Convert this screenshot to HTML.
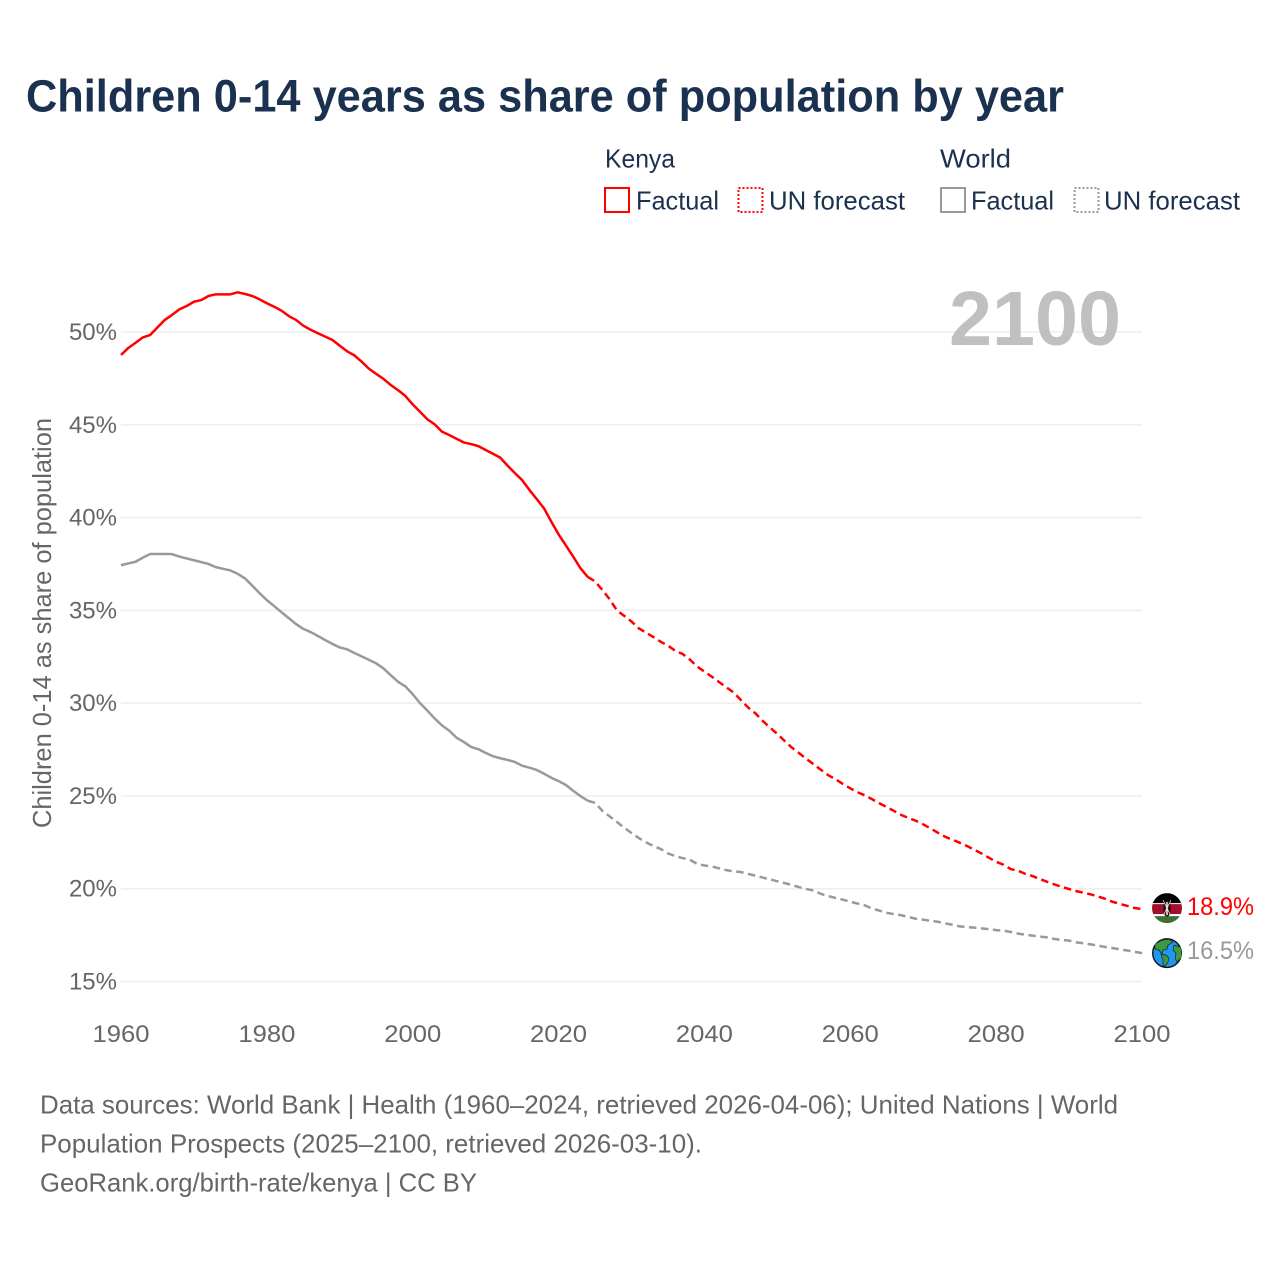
<!DOCTYPE html>
<html lang="en">
<head>
<meta charset="utf-8">
<title>Children 0-14 years as share of population by year</title>
<style>
html,body{margin:0;padding:0;background:#fff;}
svg{display:block;}
text{font-family:"Liberation Sans",sans-serif;}
</style>
</head>
<body>
<svg id="chart" width="1280" height="1280" viewBox="0 0 1280 1280" xmlns="http://www.w3.org/2000/svg">
  <rect x="0" y="0" width="1280" height="1280" fill="#fff"/>
  <text x="26" y="111.5" font-size="45" font-weight="700" fill="#1a3150" textLength="1038" lengthAdjust="spacingAndGlyphs">Children 0-14 years as share of population by year</text>

  <g font-size="26" fill="#1a3150">
    <text x="605" y="167.5" textLength="70" lengthAdjust="spacingAndGlyphs">Kenya</text>
    <text x="940" y="167.5" textLength="71" lengthAdjust="spacingAndGlyphs">World</text>
    <rect x="605" y="188" width="24" height="24" fill="none" stroke="#ff0000" stroke-width="2"/>
    <text x="636" y="209.5" textLength="83" lengthAdjust="spacingAndGlyphs">Factual</text>
    <rect x="738.5" y="188" width="24" height="24" fill="none" stroke="#ff0000" stroke-width="2" stroke-dasharray="2 2"/>
    <text x="769" y="209.5" textLength="136" lengthAdjust="spacingAndGlyphs">UN forecast</text>
    <rect x="941" y="188" width="24" height="24" fill="none" stroke="#999999" stroke-width="2"/>
    <text x="971" y="209.5" textLength="83" lengthAdjust="spacingAndGlyphs">Factual</text>
    <rect x="1074.5" y="188" width="24" height="24" fill="none" stroke="#999999" stroke-width="2" stroke-dasharray="2 2"/>
    <text x="1104" y="209.5" textLength="136" lengthAdjust="spacingAndGlyphs">UN forecast</text>
  </g>

  <g id="grid"></g>
  <g id="yticks"></g>
  <g id="xticks"></g>
  <text transform="translate(51,828) rotate(-90)" x="0" y="0" font-size="26" fill="#666666" textLength="410" lengthAdjust="spacingAndGlyphs">Children 0-14 as share of population</text>
  <text x="949" y="345" font-size="77" font-weight="700" fill="#c0c0c0" textLength="172" lengthAdjust="spacingAndGlyphs">2100</text>

  <g id="series"></g>

  <defs>
    <clipPath id="flag-clip"><circle cx="0" cy="0" r="15"/></clipPath>
  </defs>
  <g id="kenya-flag">
    <g clip-path="url(#flag-clip)">
      <rect x="-15" y="-15" width="30" height="11" fill="#000"/>
      <rect x="-15" y="-5" width="30" height="2" fill="#fff"/>
      <rect x="-15" y="-4" width="30" height="10" fill="#a30f2d"/>
      <rect x="-15" y="6" width="30" height="2" fill="#fff"/>
      <rect x="-15" y="8" width="30" height="8" fill="#3f6f35"/>
    </g>
    <ellipse cx="0" cy="0.5" rx="4" ry="8" fill="#3a0d12"/>
    <path d="M-4 -8 L4 8 M4 -8 L-4 8" stroke="#fff" stroke-width="0.7"/>
    <rect x="-0.7" y="-6" width="1.4" height="13" fill="#fff"/>
  </g>
  <g id="world-globe">
    <circle cx="0" cy="0" r="14.3" fill="#2196f3" stroke="#111" stroke-width="1.4"/>
    <g clip-path="url(#flag-clip)" fill="#3f9a3f" stroke="#123" stroke-width="0.7">
      <path d="M-12 -9 L-5 -13 L2 -14 L6 -11 L1 -8 L0 -4 L-4 -3 L-5 1 L-8 -3 L-12 -4 Z"/>
      <path d="M-6 1 L-1 2 L2 5 L1 9 L-2 13 L-4 13 L-4 7 Z"/>
      <path d="M7 -8 L14 -6 L15 4 L10 9 L8 5 L9 0 L6 -3 Z"/>
    </g>
  </g>
  <g id="endlabels"></g>

  <g font-size="26" fill="#666666">
    <text x="40" y="1113.5" textLength="1078" lengthAdjust="spacingAndGlyphs">Data sources: World Bank | Health (1960–2024, retrieved 2026-04-06); United Nations | World</text>
    <text x="40" y="1152.5" textLength="662" lengthAdjust="spacingAndGlyphs">Population Prospects (2025–2100, retrieved 2026-03-10).</text>
    <text x="40" y="1191.5" textLength="437" lengthAdjust="spacingAndGlyphs">GeoRank.org/birth-rate/kenya | CC BY</text>
  </g>
</svg>
<script>
const yTickValues = [15, 20, 25, 30, 35, 40, 45, 50];
const yTickLabels = ["15%", "20%", "25%", "30%", "35%", "40%", "45%", "50%"];
const xTickValues = [1960, 1980, 2000, 2020, 2040, 2060, 2080, 2100];
const xTickLabels = ["1960", "1980", "2000", "2020", "2040", "2060", "2080", "2100"];
const factualStartYear = 1960;
const forecastStartYear = 2025;

const kenyaFactual = [
  48.76,49.14,49.42,49.71,49.84,50.25,50.65,50.92,51.22,51.4,
  51.63,51.72,51.94,52.03,52.03,52.03,52.14,52.05,51.94,51.76,
  51.55,51.36,51.15,50.86,50.65,50.34,50.12,49.93,49.75,49.57,
  49.26,48.96,48.74,48.4,48.02,47.74,47.47,47.14,46.86,46.55,
  46.1,45.7,45.3,45.03,44.63,44.45,44.25,44.05,43.96,43.85,
  43.64,43.44,43.23,42.8,42.4,42.02,41.49,41.0,40.5,39.78,
  39.1,38.5,37.9,37.27,36.8
];
const kenyaForecast = [
  36.56,36.1,35.6,35.0,34.7,34.4,34.03,33.8,33.56,33.31,
  33.1,32.82,32.65,32.35,31.97,31.7,31.43,31.14,30.86,30.57,
  30.17,29.76,29.45,29.04,28.68,28.34,27.96,27.6,27.3,26.99,
  26.7,26.4,26.11,25.9,25.64,25.41,25.2,25.03,24.82,24.6,
  24.4,24.19,23.97,23.81,23.66,23.47,23.25,23.02,22.8,22.64,
  22.48,22.3,22.1,21.9,21.67,21.45,21.29,21.06,20.97,20.8,
  20.68,20.52,20.37,20.23,20.1,19.98,19.87,19.78,19.69,19.58,
  19.45,19.29,19.18,19.07,18.96,18.9
];
const worldFactual = [
  37.43,37.53,37.62,37.84,38.04,38.04,38.04,38.03,37.9,37.8,
  37.7,37.6,37.5,37.33,37.24,37.15,36.97,36.72,36.33,35.93,
  35.55,35.23,34.9,34.58,34.26,34.0,33.83,33.62,33.4,33.19,
  33.0,32.9,32.7,32.52,32.33,32.14,31.87,31.5,31.15,30.9,
  30.48,30.0,29.6,29.18,28.8,28.52,28.14,27.91,27.64,27.52,
  27.32,27.14,27.03,26.94,26.83,26.63,26.52,26.4,26.2,25.98,
  25.8,25.59,25.28,24.99,24.74
];
const worldForecast = [
  24.63,24.2,23.9,23.6,23.28,23.0,22.73,22.5,22.3,22.14,
  21.9,21.76,21.65,21.56,21.34,21.25,21.2,21.1,21.0,20.93,
  20.9,20.8,20.7,20.6,20.5,20.4,20.3,20.2,20.08,19.98,
  19.9,19.72,19.6,19.5,19.41,19.3,19.2,19.1,18.93,18.82,
  18.7,18.63,18.57,18.47,18.38,18.33,18.27,18.22,18.13,18.06,
  17.97,17.93,17.9,17.86,17.82,17.77,17.74,17.67,17.58,17.52,
  17.47,17.42,17.38,17.29,17.24,17.2,17.11,17.06,17.0,16.93,
  16.86,16.8,16.73,16.67,16.6,16.53
];

const NS = "http://www.w3.org/2000/svg";
function xScale(year) { return 121 + (year - 1960) * (1021 / 140); }
function yScale(pct) { return 332 + (50 - pct) * 18.557; }

function seriesPath(values, startYear, leadPoint) {
  const pts = values.map((v, i) => [xScale(startYear + i), yScale(v)]);
  if (leadPoint) pts.unshift(leadPoint);
  return "M" + pts.map(p => p[0].toFixed(2) + " " + p[1].toFixed(2)).join("L");
}

const grid = document.getElementById("grid");
const yticks = document.getElementById("yticks");
const xticks = document.getElementById("xticks");
const series = document.getElementById("series");
const endlabels = document.getElementById("endlabels");

yTickValues.forEach((v, i) => {
  const line = document.createElementNS(NS, "line");
  
  
  line.setAttribute("x1", xScale(1960));
  line.setAttribute("x2", xScale(2100));
  line.setAttribute("y1", yScale(v));
  line.setAttribute("y2", yScale(v));
  line.setAttribute("stroke", "#eeeeee");
  line.setAttribute("stroke-width", "1.5");
  grid.appendChild(line);

  const label = document.createElementNS(NS, "text");
  
  
  label.setAttribute("x", 117);
  label.setAttribute("y", yScale(v) + 8);
  label.setAttribute("text-anchor", "end");
  label.setAttribute("font-size", "24");
  label.setAttribute("fill", "#666666");
  label.textContent = yTickLabels[i];
  yticks.appendChild(label);
});

xTickValues.forEach((v, i) => {
  const label = document.createElementNS(NS, "text");
  
  
  label.setAttribute("x", xScale(v) - 28.5);
  label.setAttribute("y", 1042);
  label.setAttribute("font-size", "24");
  label.setAttribute("fill", "#666666");
  label.setAttribute("textLength", "57");
  label.setAttribute("lengthAdjust", "spacingAndGlyphs");
  label.textContent = xTickLabels[i];
  xticks.appendChild(label);
});

function lastPoint(values, startYear) {
  const i = values.length - 1;
  return [xScale(startYear + i), yScale(values[i])];
}

function drawFactual(values, color) {
  const path = document.createElementNS(NS, "path");
  
  
  path.setAttribute("d", seriesPath(values, factualStartYear));
  path.setAttribute("fill", "none");
  path.setAttribute("stroke", color);
  path.setAttribute("stroke-width", "2.5");
  path.setAttribute("stroke-linejoin", "round");
  series.appendChild(path);
}

function drawForecast(values, factual, color) {
  const path = document.createElementNS(NS, "path");
  
  
  path.setAttribute("d", seriesPath(values, forecastStartYear, lastPoint(factual, factualStartYear)));
  path.setAttribute("fill", "none");
  path.setAttribute("stroke", color);
  path.setAttribute("stroke-width", "2.5");
  path.setAttribute("stroke-dasharray", "7.5 4.5");
  series.appendChild(path);
}

function drawEndLabel(values, color) {
  const value = values[values.length - 1];
  const label = document.createElementNS(NS, "text");
  
  
  label.setAttribute("x", 1187);
  label.setAttribute("y", yScale(value) + 6);
  label.setAttribute("font-size", "25");
  label.setAttribute("fill", color);
  label.setAttribute("textLength", "67");
  label.setAttribute("lengthAdjust", "spacingAndGlyphs");
  label.textContent = value.toFixed(1) + "%";
  endlabels.appendChild(label);
}

drawFactual(worldFactual, "#999999");
drawForecast(worldForecast, worldFactual, "#999999");
drawFactual(kenyaFactual, "#ff0000");
drawForecast(kenyaForecast, kenyaFactual, "#ff0000");
drawEndLabel(kenyaForecast, "#ff0000");
drawEndLabel(worldForecast, "#999999");

document.getElementById("kenya-flag").setAttribute("transform",
  "translate(1167," + (yScale(kenyaForecast[kenyaForecast.length - 1]) - 1) + ")");
document.getElementById("world-globe").setAttribute("transform",
  "translate(1167," + yScale(worldForecast[worldForecast.length - 1]) + ")");
</script>
</body>
</html>
